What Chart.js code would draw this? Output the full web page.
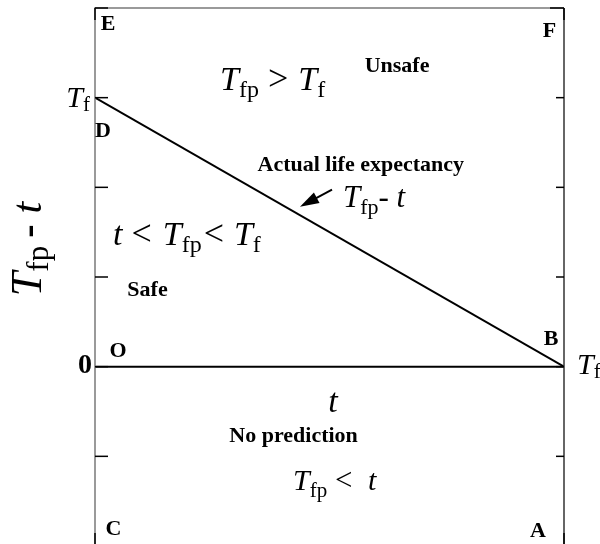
<!DOCTYPE html>
<html><head><meta charset="utf-8">
<script src="https://cdn.jsdelivr.net/npm/chart.js@4.4.1/dist/chart.umd.min.js"></script>
<style>html,body{margin:0;padding:0;background:#fff;overflow:hidden}#wrap{width:600px;height:550px}</style>
</head><body><div id="wrap"><canvas id="c" width="600" height="550"></canvas></div>
<script>
// Data (t axis in units where Tf = 3; y axis Tfp - t in same units)
const Tf = 3;
const tValues = [0, 3];
const lifeExpectancy = [3, 0];     // Tfp - t along boundary line D-B
const zeroLine = [0, 0];           // O-B line
const yTicks = [-2, -1, 0, 1, 2, 3, 4];
const xRange = [0, 3];
const yRange = [-2, 4];

const SERIF = "'Liberation Serif', 'DejaVu Serif', serif";

function drawRich(ctx, x, y, segs, align) {
  let w = 0;
  segs.forEach(s => { ctx.font = s.font; s.w = ctx.measureText(s.t).width; w += s.w + (s.gap || 0); });
  let cx = align === 'right' ? x - w : align === 'center' ? x - w / 2 : x;
  ctx.textBaseline = 'alphabetic'; ctx.textAlign = 'left';
  segs.forEach(s => { ctx.font = s.font; ctx.fillText(s.t, cx, y + (s.dy || 0)); cx += s.w + (s.gap || 0); });
}
const IT = sz => `italic ${sz}px ${SERIF}`;
const RM = sz => `${sz}px ${SERIF}`;
const BD = sz => `bold ${sz}px ${SERIF}`;

const overlay = {
  id: 'overlay',
  afterDatasetsDraw(chart) {
    const ctx = chart.ctx, xs = chart.scales.x, ys = chart.scales.y, a = chart.chartArea;
    const X = v => xs.getPixelForValue(v), Y = v => ys.getPixelForValue(v);
    ctx.save();
    // frame
    ctx.lineWidth = 1.5;
    ctx.strokeStyle = '#7a7a7a';
    ctx.beginPath(); ctx.moveTo(a.left, a.bottom); ctx.lineTo(a.left, a.top); ctx.lineTo(a.right, a.top); ctx.stroke();
    ctx.strokeStyle = '#333';
    ctx.beginPath(); ctx.moveTo(a.right, a.top); ctx.lineTo(a.right, a.bottom); ctx.stroke();
    // ticks (inward)
    ctx.strokeStyle = '#000'; ctx.lineWidth = 1.5;
    yTicks.forEach(v => {
      const py = Y(v);
      ctx.beginPath(); ctx.moveTo(a.left, py); ctx.lineTo(a.left + 13, py); ctx.stroke();
      ctx.beginPath(); ctx.moveTo(a.right, py); ctx.lineTo(a.right - (v === 4 ? 14 : 8), py); ctx.stroke();
    });
    tValues.forEach(v => {
      const px = X(v);
      ctx.beginPath(); ctx.moveTo(px, a.top); ctx.lineTo(px, a.top + 12); ctx.stroke();
      ctx.beginPath(); ctx.moveTo(px, a.bottom); ctx.lineTo(px, a.bottom - 13); ctx.stroke();
    });
    ctx.fillStyle = '#000';
    // tick labels
    drawRich(ctx, a.left - 5, Y(Tf) + 9, [{t: 'T', font: IT(30)}, {t: 'f', font: RM(21), dy: 4}], 'right');
    ctx.font = BD(28); ctx.textAlign = 'right'; ctx.textBaseline = 'middle';
    ctx.fillText('0', a.left - 3, Y(0) - 1);
    drawRich(ctx, a.right + 13, Y(0) + 7, [{t: 'T', font: IT(30)}, {t: 'f', font: RM(21), dy: 4}], 'left');
    // axis titles
    drawRich(ctx, X(1.522), Y(-0.502), [{t: 't', font: IT(34)}], 'center');
    ctx.save(); ctx.translate(41, 249); ctx.rotate(-Math.PI / 2);
    drawRich(ctx, 0, 0, [{t: 'T', font: IT(44)}, {t: 'fp', font: RM(31), dy: 7, gap: 8}, {t: '-', font: BD(40), gap: 11}, {t: 't', font: IT(42)}], 'center');
    ctx.restore();
    // corner letters
    ctx.font = BD(22); ctx.textAlign = 'center'; ctx.textBaseline = 'middle';
    [['E', 0.083, 3.814], ['F', 2.907, 3.736], ['D', 0.051, 2.621], ['O', 0.147, 0.167],
     ['B', 2.917, 0.301], ['C', 0.118, -1.818], ['A', 2.834, -1.840]].forEach(l => ctx.fillText(l[0], X(l[1]), Y(l[2])));
    // region labels
    ctx.font = BD(22);
    [['Unsafe', 1.932, 3.346], ['Actual life expectancy', 1.70, 2.242], ['Safe', 0.336, 0.848],
     ['No prediction', 1.270, -0.781]].forEach(l => ctx.fillText(l[0], X(l[1]), Y(l[2])));
    // formulas
    drawRich(ctx, X(0.80), Y(3.089), [{t: 'T', font: IT(34)}, {t: 'fp', font: RM(24), dy: 7, gap: 9}, {t: '>', font: RM(36), gap: 10}, {t: 'T', font: IT(34)}, {t: 'f', font: RM(24), dy: 7}], 'left');
    drawRich(ctx, X(0.115), Y(1.361), [{t: 't', font: IT(34), gap: 9}, {t: '<', font: RM(36), gap: 11}, {t: 'T', font: IT(34)}, {t: 'fp', font: RM(24), dy: 7, gap: 2}, {t: '<', font: RM(36), gap: 10}, {t: 'T', font: IT(34)}, {t: 'f', font: RM(24), dy: 7}], 'left');
    drawRich(ctx, X(1.586), Y(1.784), [{t: 'T', font: IT(31)}, {t: 'fp', font: RM(22), dy: 7}, {t: '- ', font: RM(31)}, {t: 't', font: IT(31)}], 'left');
    drawRich(ctx, X(1.267), Y(-1.372), [{t: 'T', font: IT(30)}, {t: 'fp', font: RM(21), dy: 7}, {t: ' <  ', font: RM(31)}, {t: 't', font: IT(30)}], 'left');
    // arrow
    const tx = X(1.516), ty = Y(1.974), hx = X(1.311), hy = Y(1.784);
    const ang = Math.atan2(hy - ty, hx - tx);
    ctx.strokeStyle = '#000'; ctx.lineWidth = 2;
    ctx.beginPath(); ctx.moveTo(tx, ty); ctx.lineTo(hx - 12 * Math.cos(ang), hy - 12 * Math.sin(ang)); ctx.stroke();
    ctx.beginPath(); ctx.moveTo(hx, hy);
    ctx.lineTo(hx - 19 * Math.cos(ang) + 6 * Math.sin(ang), hy - 19 * Math.sin(ang) - 6 * Math.cos(ang));
    ctx.lineTo(hx - 19 * Math.cos(ang) - 6 * Math.sin(ang), hy - 19 * Math.sin(ang) + 6 * Math.cos(ang));
    ctx.closePath(); ctx.fill();
    ctx.restore();
  }
};

new Chart(document.getElementById('c'), {
  type: 'line',
  data: {
    datasets: [
      { data: tValues.map((t, i) => ({x: t, y: lifeExpectancy[i]})), borderColor: '#000', borderWidth: 2, pointRadius: 0, tension: 0 },
      { data: tValues.map((t, i) => ({x: t, y: zeroLine[i]})), borderColor: '#000', borderWidth: 2, pointRadius: 0, tension: 0 }
    ]
  },
  options: {
    responsive: false, animation: false,
    layout: { padding: { left: 95, right: 36, top: 8, bottom: 4 } },
    plugins: { legend: { display: false }, tooltip: { enabled: false } },
    scales: {
      x: { type: 'linear', display: false, min: xRange[0], max: xRange[1] },
      y: { type: 'linear', display: false, min: yRange[0], max: yRange[1] }
    }
  },
  plugins: [overlay]
});
</script></body></html>
